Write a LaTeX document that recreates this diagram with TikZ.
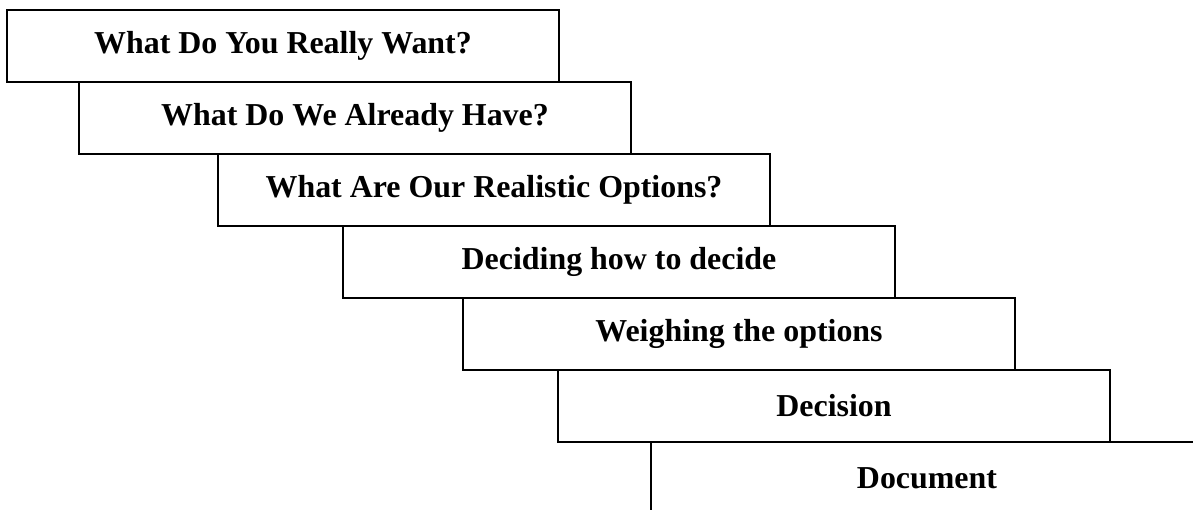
\documentclass[tikz,border=0pt]{standalone}
\usepackage{fontspec}
\setmainfont{Liberation Serif}
\usepackage{tikz}
\usetikzlibrary{positioning}

\begin{document}
\begin{tikzpicture}[
  stepbox/.style={draw, line width=1.3pt, inner sep=0pt, outer sep=0pt,
              minimum width=13.8cm, minimum height=1.8cm, align=center,
              font=\fontsize{22.7}{26}\selectfont\bfseries}
]
\clip (0,0) rectangle (29.825,-12.725);
\node[stepbox, anchor=north west] (want) at (0.175,-0.25) {What Do You Really Want?};
\node[stepbox, anchor=north west, xshift=1.8cm] (have) at (want.south west) {What Do We Already Have?};
\node[stepbox, anchor=north west, xshift=3.475cm] (options) at (have.south west) {What Are Our Realistic Options?};
\node[stepbox, anchor=north west, xshift=3.125cm] (howto) at (options.south west) {Deciding how to decide};
\node[stepbox, anchor=north west, xshift=3cm] (weigh) at (howto.south west) {Weighing the options};
\node[stepbox, anchor=north west, xshift=2.375cm] (decision) at (weigh.south west) {Decision};
\node[stepbox, anchor=north west, xshift=2.325cm] (document) at (decision.south west) {Document};
\end{tikzpicture}
\end{document}
